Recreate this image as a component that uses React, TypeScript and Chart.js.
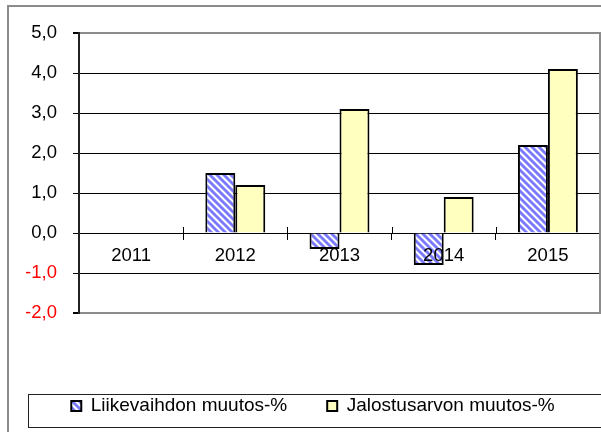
import React, { useEffect, useRef } from "react";
import { Chart, registerables } from "chart.js";

Chart.register(...registerables);

// ---- data ----
const categories = ["2011", "2012", "2013", "2014", "2015"];
const liikevaihdonMuutos = [null, 1.5, -0.4, -0.8, 2.2];
const jalostusarvonMuutos = [null, 1.2, 3.1, 0.9, 4.1];
const seriesLabels = ["Liikevaihdon muutos-%", "Jalostusarvon muutos-%"];
const yMin = -2;
const yMax = 5;
const yStep = 1;

const FONT = "'Liberation Sans', Arial, Helvetica, sans-serif";

function makeStripePattern(): CanvasPattern | string {
  const c = document.createElement("canvas");
  const s = 7;
  c.width = s;
  c.height = s;
  const g = c.getContext("2d");
  if (!g) return "#8080ff";
  g.fillStyle = "#ffffff";
  g.fillRect(0, 0, s, s);
  g.strokeStyle = "#7a7aff";
  g.lineWidth = 2.9;
  for (const k of [-s, 0, s]) {
    g.beginPath();
    g.moveTo(k - 1, -1);
    g.lineTo(k + s + 1, s + 1);
    g.stroke();
  }
  return g.createPattern(c, "repeat") || "#8080ff";
}

const decorPlugin = {
  id: "decor",
  beforeDatasetsDraw(chart: any) {
    const { ctx, chartArea } = chart;
    ctx.save();
    // right border of plot area
    ctx.strokeStyle = "#8c8c8c";
    ctx.lineWidth = 2;
    ctx.beginPath();
    ctx.moveTo(chartArea.right, chartArea.top - 1);
    ctx.lineTo(chartArea.right, chartArea.bottom + 1);
    ctx.stroke();
    // upper halves of category tick marks (crossing the zero axis)
    const xs = chart.scales.x;
    const y0 = chart.scales.y.getPixelForValue(0);
    ctx.strokeStyle = "#000";
    ctx.lineWidth = 1;
    for (let i = 1; i < categories.length; i++) {
      const px = Math.round((xs.getPixelForValue(i - 1) + xs.getPixelForValue(i)) / 2) + 0.5;
      ctx.beginPath();
      ctx.moveTo(px, y0 - 6);
      ctx.lineTo(px, y0);
      ctx.stroke();
    }
    ctx.restore();
  },
  afterDraw(chart: any) {
    const lg = chart.legend;
    if (!lg || !lg.legendHitBoxes || !lg.legendHitBoxes.length) return;
    const hb = lg.legendHitBoxes[0];
    const cy = hb.top + hb.height / 2;
    const { ctx } = chart;
    ctx.save();
    ctx.strokeStyle = "#222";
    ctx.lineWidth = 1;
    ctx.strokeRect(lg.left + 2.5, Math.round(cy - 12) + 0.5, chart.width + 20, 33);
    ctx.restore();
  },
};

export default function App() {
  const ref = useRef<HTMLCanvasElement | null>(null);

  useEffect(() => {
    const canvas = ref.current;
    if (!canvas) return;
    const stripes = makeStripePattern();
    const chart = new Chart(canvas, {
      type: "bar",
      data: {
        labels: categories,
        datasets: [
          {
            label: seriesLabels[0],
            data: liikevaihdonMuutos,
            backgroundColor: stripes as any,
            borderColor: "#000",
            borderWidth: 2,
          },
          {
            label: seriesLabels[1],
            data: jalostusarvonMuutos,
            backgroundColor: "#ffffc0",
            borderColor: "#000",
            borderWidth: 2,
          },
        ],
      },
      options: {
        animation: false,
        responsive: false,
        maintainAspectRatio: false,
        datasets: {
          bar: { barPercentage: 1, categoryPercentage: 0.575 },
        },
        layout: { padding: { left: 26, right: 1, top: 33, bottom: 6.5 } },
        plugins: {
          tooltip: { enabled: false },
          legend: {
            position: "bottom",
            align: "center",
            title: {
              display: true,
              text: " ",
              padding: { top: 31.5, bottom: 0 },
              font: { size: 10, family: FONT },
            },
            labels: {
              boxWidth: 10,
              boxHeight: 10,
              padding: 40,
              color: "#000",
              font: { family: FONT, size: 19 },
            },
          },
        },
        scales: {
          x: {
            position: { y: 0 } as any,
            grid: {
              drawOnChartArea: false,
              drawTicks: true,
              tickLength: 6,
              color: "#000",
              tickColor: "#000",
            },
            border: { display: true, color: "#000", width: 1 },
            ticks: {
              z: 1,
              color: "#000",
              font: { family: FONT, size: 18.5 },
              padding: 6,
              maxRotation: 0,
              autoSkip: false,
            },
          },
          y: {
            min: yMin,
            max: yMax,
            afterFit: (s: any) => {
              s.width = 53;
            },
            ticks: {
              stepSize: yStep,
              padding: 16,
              font: { family: FONT, size: 18.5 },
              color: (c: any) => (c.tick && c.tick.value < 0 ? "#ff0000" : "#000"),
              callback: (v: any) => Number(v).toFixed(1).replace(".", ","),
            },
            grid: {
              color: (c: any) =>
                c.tick && (c.tick.value === yMax || c.tick.value === yMin) ? "#8c8c8c" : "#000",
              lineWidth: (c: any) =>
                c.tick && (c.tick.value === yMax || c.tick.value === yMin) ? 2 : 1,
              tickLength: 6,
              tickColor: "#000",
            },
            border: { display: true, color: "#222", width: 2 },
          },
        },
      },
      plugins: [decorPlugin],
    });
    return () => chart.destroy();
  }, []);

  return (
    <div
      style={{
        position: "fixed",
        left: 0,
        top: 0,
        width: 601,
        height: 432,
        overflow: "hidden",
        background: "#fff",
      }}
    >
      <div
        style={{
          position: "absolute",
          left: 7,
          top: 5,
          width: 800,
          height: 600,
          border: "2px solid #8c8c8c",
          boxSizing: "border-box",
        }}
      />
      <canvas
        ref={ref}
        width={601}
        height={432}
        style={{ position: "absolute", left: 0, top: 0, width: 601, height: 432 }}
      />
    </div>
  );
}
